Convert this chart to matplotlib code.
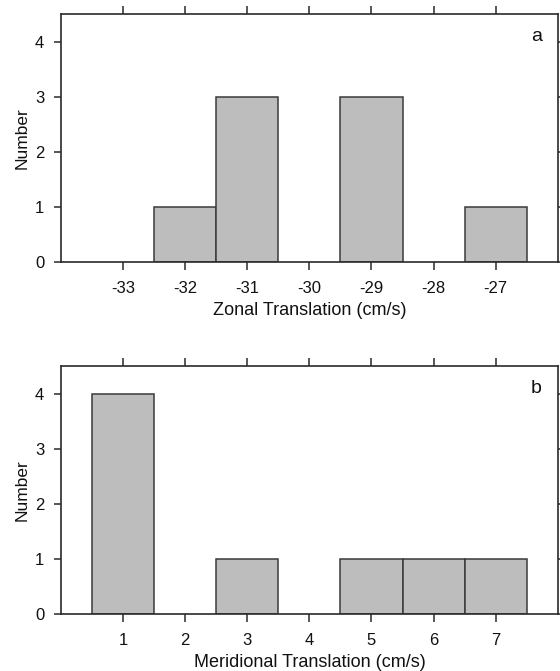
import matplotlib
matplotlib.use("Agg")
import matplotlib.pyplot as plt

# Histogram counts of eddy translation speeds
zonal_speed = [-32, -31, -29, -27]
zonal_count = [1, 3, 3, 1]
zonal_ticks = [-33, -32, -31, -30, -29, -28, -27]

merid_speed = [1, 3, 5, 6, 7]
merid_count = [4, 1, 1, 1, 1]
merid_ticks = [1, 2, 3, 4, 5, 6, 7]

y_ticks = [0, 1, 2, 3, 4]

plt.rcParams['font.family'] = ['Liberation Sans', 'DejaVu Sans']
plt.rcParams['axes.unicode_minus'] = False

fig = plt.figure(figsize=(5.6, 6.71), dpi=100)
ax_a = fig.add_axes([0.109, 0.6095, 0.887, 0.3695])
ax_b = fig.add_axes([0.109, 0.085, 0.887, 0.3696])

bar_face = '#bdbdbd'
bar_edge = '#3a3a3a'
ink = '#2a2a2a'
text_col = '#111111'
fs = 12


def style(ax, speeds, counts, ticks, xlim, xlabel, tag):
    ax.bar(speeds, counts, width=1.0, color=bar_face, edgecolor=bar_edge,
           linewidth=1.1, zorder=2)
    ax.set_xlim(*xlim)
    ax.set_ylim(0, 4.5)
    ax.set_xticks(ticks)
    ax.set_yticks(y_ticks)
    ax.tick_params(axis='x', direction='out', length=6, width=1.1,
                   color=ink, top=True, labeltop=False, labelsize=fs,
                   pad=8, labelcolor=text_col)
    ax.tick_params(axis='y', direction='out', length=5, width=1.1,
                   color=ink, right=True, labelright=False, labelsize=fs,
                   pad=7, labelcolor=text_col)
    for s in ax.spines.values():
        s.set_linewidth(1.2)
        s.set_color(ink)
    ax.set_ylabel('Number', fontsize=12.5, labelpad=4, color=text_col)
    ax.set_xlabel(xlabel, fontsize=13, labelpad=4, color=text_col)
    ax.text(0.957, 0.911, tag, transform=ax.transAxes, ha='center',
            va='center', fontsize=14, color=text_col)


style(ax_a, zonal_speed, zonal_count, zonal_ticks, (-34, -26),
      'Zonal Translation (cm/s)', 'a')
style(ax_b, merid_speed, merid_count, merid_ticks, (0, 8),
      'Meridional Translation (cm/s)', 'b')

fig.savefig('out.png', dpi=100, facecolor='white')
